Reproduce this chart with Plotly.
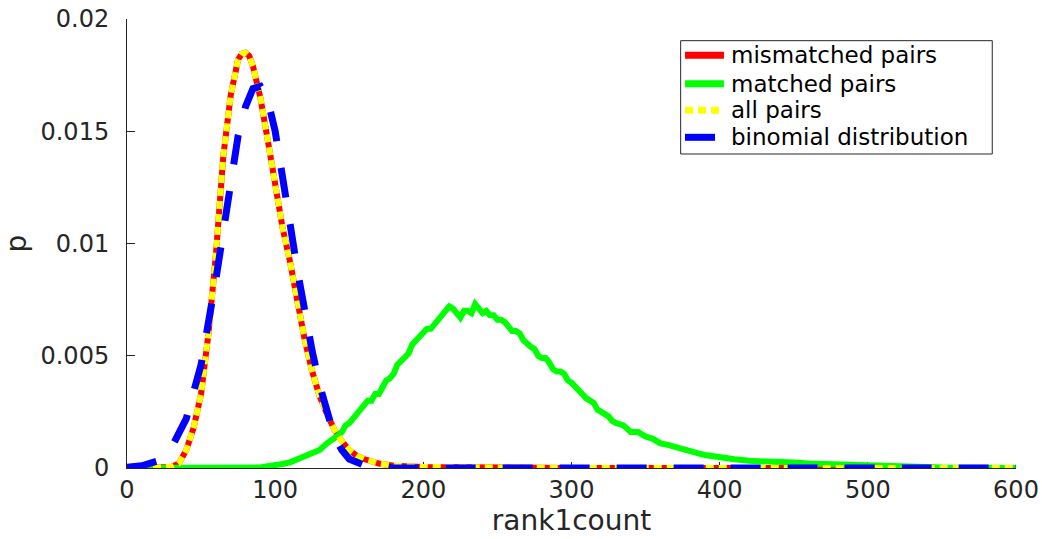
import plotly.graph_objects as go

# ---- data ----
series_names = ["mismatched pairs", "matched pairs", "all pairs", "binomial distribution"]

mis_x = [0, 10, 20, 30, 35, 40, 45, 50, 55, 60, 65, 70, 75, 77.5, 80, 82.5, 85, 90,
         95, 100, 105, 110, 115, 120, 125, 130, 135, 140, 145, 150, 155, 160, 170,
         180, 200, 250, 300, 400, 500, 600]
mis_y = [0, 0, 0, 0.00005, 0.0002, 0.0008, 0.0018, 0.0033, 0.0060, 0.0095, 0.0139,
         0.0166, 0.0182, 0.01845, 0.0185, 0.01835, 0.0179, 0.0165, 0.0146, 0.0127,
         0.0107, 0.0092, 0.0073, 0.0057, 0.0043, 0.0032, 0.0024, 0.0017, 0.0012,
         0.0008, 0.00055, 0.0004, 0.0002, 0.0001, 0.00005, 0.00002, 0, 0, 0, 0]

all_x = list(mis_x)
all_y = list(mis_y)

mat_x = [0, 85, 90, 95, 100, 105, 110, 115, 120, 125, 130, 135,
         140, 142.5, 145, 147.5, 150, 152.5, 155, 157.5, 160, 162.5, 165, 167.5,
         170, 172.5, 175, 177.5, 180, 182.5, 185, 187.5, 190, 192.5, 195, 197.5,
         200, 202.5, 205, 207.5, 210, 212.5, 215, 217.5, 220, 222.5, 225, 227.5,
         230, 232.5, 235, 237.5, 240, 242.5, 245, 247.5, 250, 252.5, 255, 257.5,
         260, 262.5, 265, 267.5, 270, 272.5, 275, 277.5, 280, 282.5, 285, 287.5,
         290, 292.5, 295, 297.5, 300, 302.5, 305, 307.5, 310, 312.5, 315, 317.5,
         320, 322.5, 325, 327.5, 330,
         335, 340, 345, 350, 355, 360, 365, 370, 375, 380, 385, 390, 395, 400,
         410, 420, 430, 440, 450, 460, 470, 480, 490, 500, 520, 550, 600]
mat_y = [0, 0, 0.00002, 0.00008, 0.0001, 0.00018, 0.00025, 0.0004, 0.0005, 0.00068,
         0.0008, 0.0011,
         0.0013, 0.00145, 0.0016, 0.0019, 0.0020, 0.0022, 0.0024, 0.0025, 0.0027,
         0.0030, 0.0030, 0.0033, 0.0033, 0.0036, 0.0039, 0.0040, 0.0042, 0.0046,
         0.0048, 0.0049, 0.0051, 0.0055, 0.0057, 0.0058, 0.0060, 0.0062, 0.0062,
         0.0064, 0.0065, 0.0068, 0.0069, 0.0072, 0.0071, 0.0069, 0.0067, 0.0070,
         0.0070, 0.0069, 0.0073, 0.0071, 0.0069, 0.0070, 0.0068, 0.0068, 0.0066,
         0.0066, 0.0065, 0.0063, 0.0061, 0.0061, 0.0060, 0.0057, 0.0055, 0.0054,
         0.0053, 0.0050, 0.0049, 0.0049, 0.0047, 0.0044, 0.0043, 0.0043, 0.0042,
         0.0039, 0.0038, 0.0036, 0.0035, 0.0032, 0.0031, 0.0030, 0.0029, 0.0026,
         0.0025, 0.0024, 0.0023, 0.0021, 0.0020,
         0.0019, 0.0016, 0.0016, 0.0014, 0.0013, 0.0011, 0.00103, 0.00092, 0.00085,
         0.0007, 0.00066, 0.00058, 0.00053, 0.00044,
         0.00039, 0.00032, 0.00031, 0.00026, 0.00024, 0.0002, 0.00018, 0.00015,
         0.00013, 0.00008, 0.00004, 0.00002, 0]

bin_x = [0, 10, 20, 30, 40, 50, 60, 65, 70, 75, 80, 85, 90, 95, 100, 105, 110, 115,
         120, 125, 130, 135, 140, 145, 150, 160, 170, 180, 600]
bin_y = [0.00003, 0.0001, 0.0003, 0.0009, 0.0022, 0.0046, 0.0084, 0.0104, 0.0127,
         0.0148, 0.0161, 0.0169, 0.0170, 0.0164, 0.0150, 0.0131, 0.0109, 0.0088,
         0.0069, 0.0052, 0.0037, 0.0024, 0.0014, 0.0008, 0.0004, 0.00013, 0.00003,
         0, 0]

x_ticks = [0, 100, 200, 300, 400, 500, 600]
y_ticks = [0, 0.005, 0.01, 0.015, 0.02]
y_tick_text = ["0", "0.005", "0.01", "0.015", "0.02"]

FONT = "DejaVu Sans"
AX = "#262626"

styles = [
    dict(color="#ff0000", width=6),
    dict(color="#00ff00", width=6),
    dict(color="#ffff00", width=6, dash="8px,5px"),
    dict(color="#0000ff", width=7, dash="30px,27px"),
]
data = [(mis_x, mis_y), (mat_x, mat_y), (all_x, all_y), (bin_x, bin_y)]

fig = go.Figure()
for name, (xs, ys), st in zip(series_names, data, styles):
    fig.add_trace(go.Scatter(x=xs, y=ys, mode="lines", name=name, line=st,
                             cliponaxis=False, showlegend=False))

# ---- legend box drawn in axis-domain coordinates (MATLAB style) ----
shapes = [dict(type="rect", xref="x domain", yref="y domain",
               x0=0.6228, x1=0.9733, y0=0.6993, y1=0.9517,
               line=dict(color=AX, width=1), fillcolor="white", layer="above")]
annotations = []
row_y = [0.9192, 0.8559, 0.7967, 0.7365]
for name, st, ry in zip(series_names, styles, row_y):
    shapes.append(dict(type="line", xref="x domain", yref="y domain",
                       x0=0.6277, x1=0.6715, y0=ry, y1=ry, layer="above",
                       line=dict(color=st["color"], width=7,
                                 dash=st.get("dash", "solid"))))
    annotations.append(dict(xref="x domain", yref="y domain", x=0.6772, y=ry,
                            xanchor="left", yanchor="middle", showarrow=False,
                            text=name, font=dict(family=FONT, size=23,
                                                 color="#000000")))

fig.update_layout(
    width=1042, height=539,
    margin=dict(l=127, r=26, t=19, b=71),
    paper_bgcolor="white", plot_bgcolor="white",
    font=dict(family=FONT, size=24, color=AX),
    showlegend=False, hovermode=False,
    shapes=shapes, annotations=annotations,
)
fig.update_xaxes(range=[0, 600], tickvals=x_ticks, ticks="inside", ticklen=6,
                 tickcolor=AX, showline=True, linecolor=AX, linewidth=1,
                 showgrid=False, zeroline=False, layer="below traces",
                 automargin=False, ticklabeloverflow="allow",
                 title=dict(text="rank1count", font=dict(size=28), standoff=4))
fig.update_yaxes(range=[0, 0.02], tickvals=y_ticks, ticktext=y_tick_text,
                 ticks="inside", ticklen=8, tickcolor=AX, showline=True,
                 linecolor=AX, linewidth=1, showgrid=False, zeroline=False,
                 layer="below traces", automargin=False, ticklabelstandoff=12,
                 ticklabeloverflow="allow",
                 title=dict(text="p", font=dict(size=28), standoff=28))

fig.write_html("out.html", config={"displayModeBar": False},
               post_script="document.body.style.margin='0';"
                           "document.body.style.overflow='hidden';")
